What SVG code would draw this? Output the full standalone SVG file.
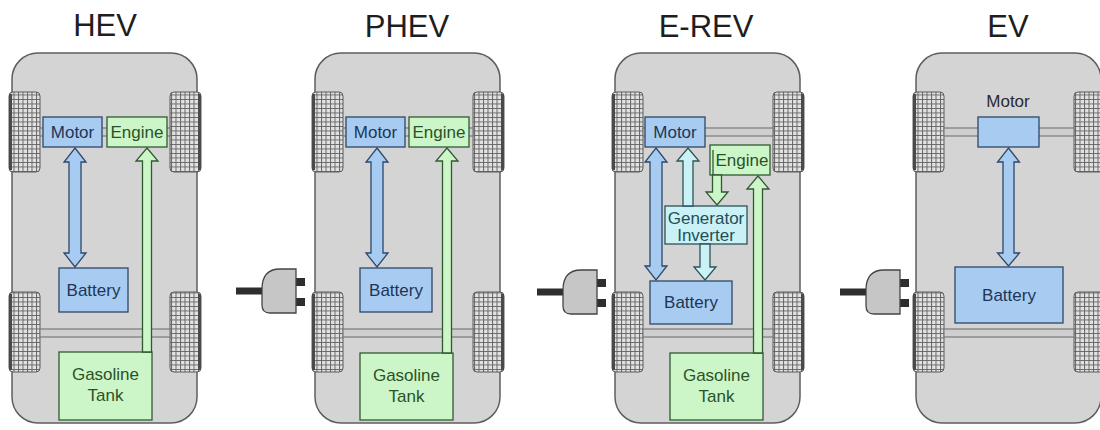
<svg xmlns="http://www.w3.org/2000/svg" xmlns:xlink="http://www.w3.org/1999/xlink" width="1100" height="430" viewBox="0 0 1100 430">
  <style>
    .title { font-family: "Liberation Sans", Arial, sans-serif; font-size: 31px; fill: #1e1e1e; text-anchor: middle; }
    .lbl { font-family: "Liberation Sans", Arial, sans-serif; font-size: 17px; text-anchor: middle; }
    .blue { fill: #a8cbf2; stroke: #2d4868; stroke-width: 1.3; }
    .green { fill: #cdf6c8; stroke: #2f5a30; stroke-width: 1.3; }
    .cyan { fill: #c9f1f6; stroke: #2c5459; stroke-width: 1.3; }
    .tb { fill: #1d3656; }
    .tg { fill: #295229; }
    .tc { fill: #214f56; }
    .tk { fill: #2a2a2a; }
    .body { fill: #d4d4d4; stroke: #5e5e5e; stroke-width: 1.5; }
    .wheel { fill: url(#tread); stroke: #5a5a5a; stroke-width: 1; }
    .axle { fill: #cfcfcf; stroke: #7a7a7a; stroke-width: 1.2; }
    .plug { fill: #c6c6c6; stroke: #444; stroke-width: 1.3; }
    .dark { fill: #2e2e2e; }
  </style>
  <defs>
    <pattern id="tread" width="4.5" height="4.5" patternUnits="userSpaceOnUse">
      <rect width="4.5" height="4.5" fill="#e2e2e2"/>
      <path d="M0 0.5H4.5M0.5 0V4.5" stroke="#666" stroke-width="1"/>
    </pattern>
    <!-- car chassis: body with four wheels and two axles -->
    <g id="chassis">
      <rect x="12" y="53" width="185" height="370" rx="26" class="body"/>
      <rect x="9" y="92" width="31" height="80" rx="4" class="wheel"/>
      <rect x="9" y="292" width="31" height="80" rx="4" class="wheel"/>
      <rect x="170" y="92" width="31" height="80" rx="4" class="wheel"/>
      <rect x="170" y="292" width="31" height="80" rx="4" class="wheel"/>
      <rect x="9" y="94" width="3" height="76" fill="#4a4a4a"/>
      <rect x="9" y="294" width="3" height="76" fill="#4a4a4a"/>
      <rect x="198" y="94" width="3" height="76" fill="#4a4a4a"/>
      <rect x="198" y="294" width="3" height="76" fill="#4a4a4a"/>
      <rect x="40" y="128" width="130" height="8" class="axle"/>
      <rect x="40" y="329" width="130" height="8" class="axle"/>
    </g>
    <!-- charging plug, cord to the left -->
    <g id="plug">
      <rect x="0" y="-3.5" width="27" height="7" class="dark"/>
      <rect x="60" y="-13" width="9" height="8" class="dark"/>
      <rect x="60" y="7" width="9" height="8" class="dark"/>
      <path d="M60 -22 H44 Q26 -22 26 -2 V14 Q26 22 34 22 H60 Z" class="plug"/>
    </g>
  </defs>

  <!-- titles -->
  <g id="titles">
    <text x="105" y="36" class="title">HEV</text>
    <text x="407" y="37" class="title">PHEV</text>
    <text x="706" y="37" class="title">E-REV</text>
    <text x="1008" y="37" class="title">EV</text>
  </g>

  <!-- chassis of the four vehicles -->
  <g id="cars">
    <use xlink:href="#chassis" href="#chassis"/>
    <use xlink:href="#chassis" href="#chassis" transform="translate(303,0)"/>
    <use xlink:href="#chassis" href="#chassis" transform="translate(603,0)"/>
    <use xlink:href="#chassis" href="#chassis" transform="translate(904,0)"/>
  </g>

  <!-- plugs -->
  <g id="plugs">
    <use xlink:href="#plug" href="#plug" transform="translate(236,291)"/>
    <use xlink:href="#plug" href="#plug" transform="translate(537,292)"/>
    <use xlink:href="#plug" href="#plug" transform="translate(840,292)"/>
  </g>

  <!-- HEV -->
  <g id="hev-motor"><rect x="43" y="117" width="59" height="30" class="blue"/><text x="72.5" y="138" class="lbl tb">Motor</text></g>
  <g id="hev-engine"><rect x="107" y="117" width="60" height="30" class="green"/><text x="137" y="138" class="lbl tg">Engine</text></g>
  <g id="hev-battery"><rect x="59" y="268" width="69" height="44" class="blue"/><text x="93.5" y="296" class="lbl tb">Battery</text></g>
  <g id="hev-tank"><rect x="59" y="352" width="93" height="68" class="green"/><text x="105.5" y="380" class="lbl tg">Gasoline</text><text x="105.5" y="401" class="lbl tg">Tank</text></g>

  <!-- PHEV -->
  <g id="phev-motor"><rect x="346" y="117" width="59" height="30" class="blue"/><text x="375.5" y="138" class="lbl tb">Motor</text></g>
  <g id="phev-engine"><rect x="409" y="117" width="60" height="30" class="green"/><text x="439" y="138" class="lbl tg">Engine</text></g>
  <g id="phev-battery"><rect x="360" y="268" width="72" height="44" class="blue"/><text x="396" y="296" class="lbl tb">Battery</text></g>
  <g id="phev-tank"><rect x="360" y="353" width="93" height="67" class="green"/><text x="406.5" y="381" class="lbl tg">Gasoline</text><text x="406.5" y="402" class="lbl tg">Tank</text></g>

  <!-- E-REV -->
  <g id="erev-motor"><rect x="645" y="117" width="60" height="30" class="blue"/><text x="675" y="138" class="lbl tb">Motor</text></g>
  <g id="erev-engine"><rect x="710" y="145" width="60" height="30" class="green"/><text x="742" y="166" class="lbl tg">Engine</text></g>
  <g id="erev-geninv"><rect x="665" y="206" width="82" height="38" class="cyan"/><text x="706" y="224" class="lbl tc">Generator</text><text x="706" y="241" class="lbl tc">Inverter</text></g>
  <g id="erev-battery"><rect x="650" y="281" width="82" height="43" class="blue"/><text x="691" y="308" class="lbl tb">Battery</text></g>
  <g id="erev-tank"><rect x="670" y="353" width="93" height="67" class="green"/><text x="716.5" y="381" class="lbl tg">Gasoline</text><text x="716.5" y="402" class="lbl tg">Tank</text></g>

  <!-- EV -->
  <g id="ev-motor"><rect x="978" y="117" width="61" height="30" class="blue"/><text x="1008" y="107" class="lbl tk">Motor</text></g>
  <g id="ev-battery"><rect x="955" y="267" width="108" height="56" class="blue"/><text x="1009" y="301" class="lbl tb">Battery</text></g>

  <!-- power / fuel flow arrows -->
  <g id="connectors">
    <!-- HEV -->
    <path d="M75 148 L86 162 L81 162 L81 253 L86 253 L75 267 L64 253 L69 253 L69 162 L64 162 Z" class="blue"/>
    <path d="M147 148 L158 161 L151.5 161 L151.5 352 L142.5 352 L142.5 161 L136 161 Z" class="green"/>
    <!-- PHEV -->
    <path d="M377 148 L388 162 L383 162 L383 253 L388 253 L377 267 L366 253 L371 253 L371 162 L366 162 Z" class="blue"/>
    <path d="M447 148 L458 161 L451.5 161 L451.5 353 L442.5 353 L442.5 161 L436 161 Z" class="green"/>
    <!-- E-REV -->
    <path d="M656 148 L667 162 L662 162 L662 266 L667 266 L656 280 L645 266 L650 266 L650 162 L645 162 Z" class="blue"/>
    <path d="M688 148 L699 161 L693 161 L693 206 L683 206 L683 161 L677 161 Z" class="cyan"/>
    <path d="M705 280 L716 267 L710 267 L710 244 L700 244 L700 267 L694 267 Z" class="cyan"/>
    <path d="M717 205 L728 192 L721.5 192 L721.5 175 L712.5 175 L712.5 192 L706 192 Z" class="green"/>
    <line x1="713" y1="150" x2="713" y2="175" stroke="#2f5a30" stroke-width="1.3"/>
    <path d="M758 176 L769 189 L762.5 189 L762.5 353 L753.5 353 L753.5 189 L747 189 Z" class="green"/>
    <!-- EV -->
    <path d="M1008.5 148 L1019.5 162 L1014 162 L1014 253 L1019.5 253 L1008.5 266 L997.5 253 L1003 253 L1003 162 L997.5 162 Z" class="blue"/>
  </g>
</svg>
